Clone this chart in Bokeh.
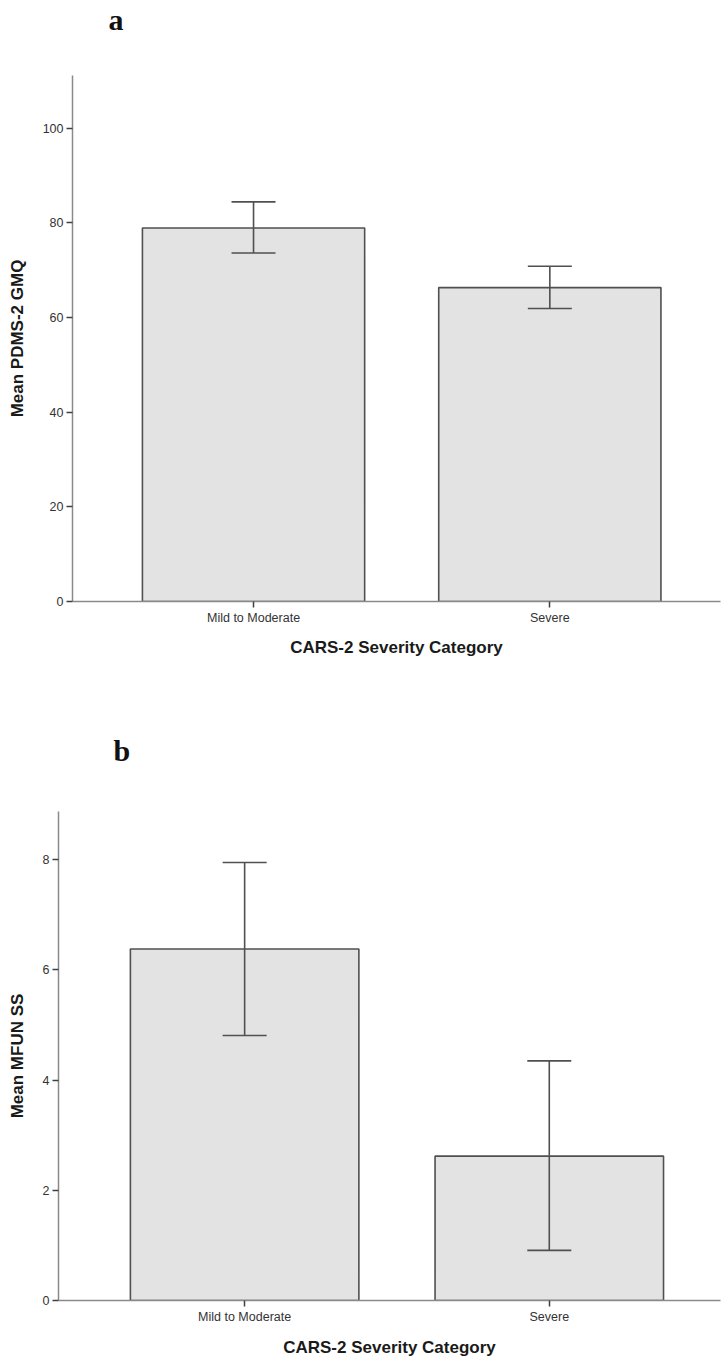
from bokeh.plotting import figure
from bokeh.models import (ColumnDataSource, Range1d, FixedTicker, Whisker,
                          TeeHead, Title)
from bokeh.embed import file_html
from bokeh.resources import INLINE

categories = ["Mild to Moderate", "Severe"]

# Panel a: Mean PDMS-2 GMQ
a_mean = [78.9, 66.3]
a_lower = [73.6, 61.9]
a_upper = [84.4, 70.8]
a_ticks = [0, 20, 40, 60, 80, 100]

# Panel b: Mean MFUN SS
b_mean = [6.38, 2.62]
b_lower = [4.81, 0.91]
b_upper = [7.95, 4.35]
b_ticks = [0, 2, 4, 6, 8]

FONT = "Liberation Sans"


def panel(letter, letter_offset, spacer_standoff, mean, lower, upper, yticks,
          ytitle, y_end, x_start, x_end, height, b_left, b_top, b_bottom,
          xstand):
    xs = list(range(len(categories)))
    src = ColumnDataSource(dict(x=xs, top=mean, lo=lower, hi=upper))
    p = figure(width=723, height=height, output_backend="svg",
               toolbar_location=None, title=None,
               x_range=Range1d(x_start, x_end), y_range=Range1d(0, y_end),
               min_border_left=b_left, min_border_right=3,
               min_border_top=b_top, min_border_bottom=b_bottom)

    # spacer between the panel letter and the plot frame
    p.add_layout(Title(text=" ", text_font_size="10px",
                       standoff=spacer_standoff), "above")
    p.add_layout(Title(text=letter, text_font="Liberation Serif",
                       text_font_style="bold", text_font_size="30px",
                       text_color="#111111", align="left",
                       offset=letter_offset, standoff=0), "above")

    p.vbar(x="x", top="top", width=0.75, source=src,
           fill_color="#e3e3e3", line_color="#505050", line_width=1.6)
    w = Whisker(source=src, base="x", lower="lo", upper="hi",
                line_color="#505050", line_width=1.6, level="overlay",
                upper_head=TeeHead(size=44, line_color="#505050", line_width=1.6),
                lower_head=TeeHead(size=44, line_color="#505050", line_width=1.6))
    p.add_layout(w)

    p.xgrid.visible = False
    p.ygrid.visible = False
    p.outline_line_color = None

    p.xaxis.ticker = FixedTicker(ticks=xs)
    p.xaxis.major_label_overrides = {i: c for i, c in enumerate(categories)}
    p.xaxis.axis_label = "CARS-2 Severity Category"
    p.yaxis.ticker = FixedTicker(ticks=yticks)
    p.yaxis.axis_label = ytitle

    for ax in (p.xaxis[0], p.yaxis[0]):
        ax.axis_line_color = "#8a8a8a"
        ax.axis_line_width = 1.5
        ax.major_tick_line_color = "#404040"
        ax.major_tick_line_width = 1.5
        ax.major_tick_in = 0
        ax.major_tick_out = 6
        ax.minor_tick_line_color = None
        ax.major_label_text_font = FONT
        ax.major_label_text_font_size = "12.5px"
        ax.major_label_text_color = "#333333"
        ax.major_label_standoff = 3
        ax.axis_label_text_font = FONT
        ax.axis_label_text_font_style = "bold"
        ax.axis_label_text_font_size = "17px"
        ax.axis_label_text_color = "#1a1a1a"
    p.xaxis.axis_label_standoff = xstand
    p.yaxis.axis_label_standoff = 13
    return p


p1 = panel("a", 36, 27, a_mean, a_lower, a_upper, a_ticks, "Mean PDMS-2 GMQ",
           111.1, -0.611, 1.576, 666, 72, 75, 65, 10)
p2 = panel("b", 55, 32, b_mean, b_lower, b_upper, b_ticks, "Mean MFUN SS",
           8.877, -0.611, 1.562, 693, 58, 145, 58, 11)

open("out.html", "w").write(file_html([p1, p2], INLINE))
